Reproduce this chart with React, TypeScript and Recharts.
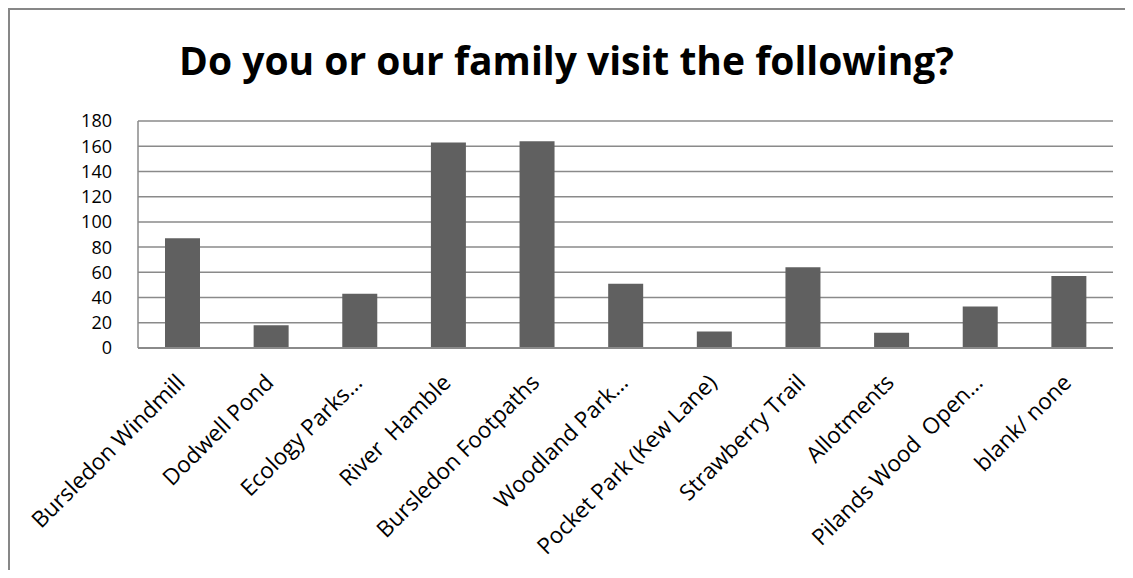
import { BarChart, Bar, XAxis, YAxis, CartesianGrid } from 'recharts';

const places = [
  'Bursledon Windmill',
  'Dodwell Pond',
  'Ecology Parks…',
  'River  Hamble',
  'Bursledon Footpaths',
  'Woodland Park…',
  'Pocket Park (Kew Lane)',
  'Strawberry Trail',
  'Allotments',
  'Pilands Wood  Open…',
  'blank/ none',
];
const visits = [87, 18, 43, 163, 164, 51, 13, 64, 12, 33, 57];
const yTicks = [0, 20, 40, 60, 80, 100, 120, 140, 160, 180];

const data = places.map((name, i) => ({ name, visits: visits[i] }));

const FONT = '"Open Sans", sans-serif';
const GRID = '#8a8a8a';

// Excel-style slanted category labels
function PlaceTick(props: any) {
  const { x, y, payload } = props;
  const tx = x + 4;
  const ty = y + 36;
  return (
    <text
      x={tx}
      y={ty}
      transform={`rotate(-45, ${tx}, ${ty})`}
      textAnchor="end"
      fontFamily={FONT}
      fontSize={22.5}
      fill="#000"
      style={{ whiteSpace: 'pre' }}
    >
      {payload.value}
    </text>
  );
}

export default function App() {
  return (
    <div style={{ position: 'relative', width: 1117, height: 562, background: '#fff' }}>
      <div
        style={{
          position: 'absolute', left: 0, top: 0, right: 0, bottom: 0,
          borderTop: '2px solid #878787', borderLeft: '2px solid #878787',
        }}
      />
      <div
        style={{
          position: 'absolute', left: 0, top: 32, width: 1117, textAlign: 'center',
          fontFamily: FONT, fontWeight: 700, fontSize: 39, lineHeight: '39px', color: '#000',
        }}
      >
        Do you or our family visit the following?
      </div>
      <BarChart
        width={1117}
        height={562}
        data={data}
        margin={{ top: 113, right: 12, bottom: 0, left: 0 }}
        style={{ position: 'absolute', left: 0, top: 0 }}
      >
        <CartesianGrid vertical={false} stroke={GRID} strokeWidth={1.5} />
        <XAxis
          dataKey="name"
          interval={0}
          height={222}
          tick={<PlaceTick />}
          tickLine={false}
          axisLine={{ stroke: GRID, strokeWidth: 2 }}
          tickSize={0}
          tickMargin={0}
        />
        <YAxis
          domain={[0, 180]}
          ticks={yTicks}
          interval={0}
          width={130}
          tickLine={false}
          axisLine={{ stroke: GRID, strokeWidth: 1.5 }}
          tickSize={6}
          tickMargin={20}
          tick={{ fontFamily: FONT, fontSize: 18, fill: '#000' }}
        />
        <Bar dataKey="visits" fill="#606060" barSize={35} isAnimationActive={false} />
      </BarChart>
    </div>
  );
}
